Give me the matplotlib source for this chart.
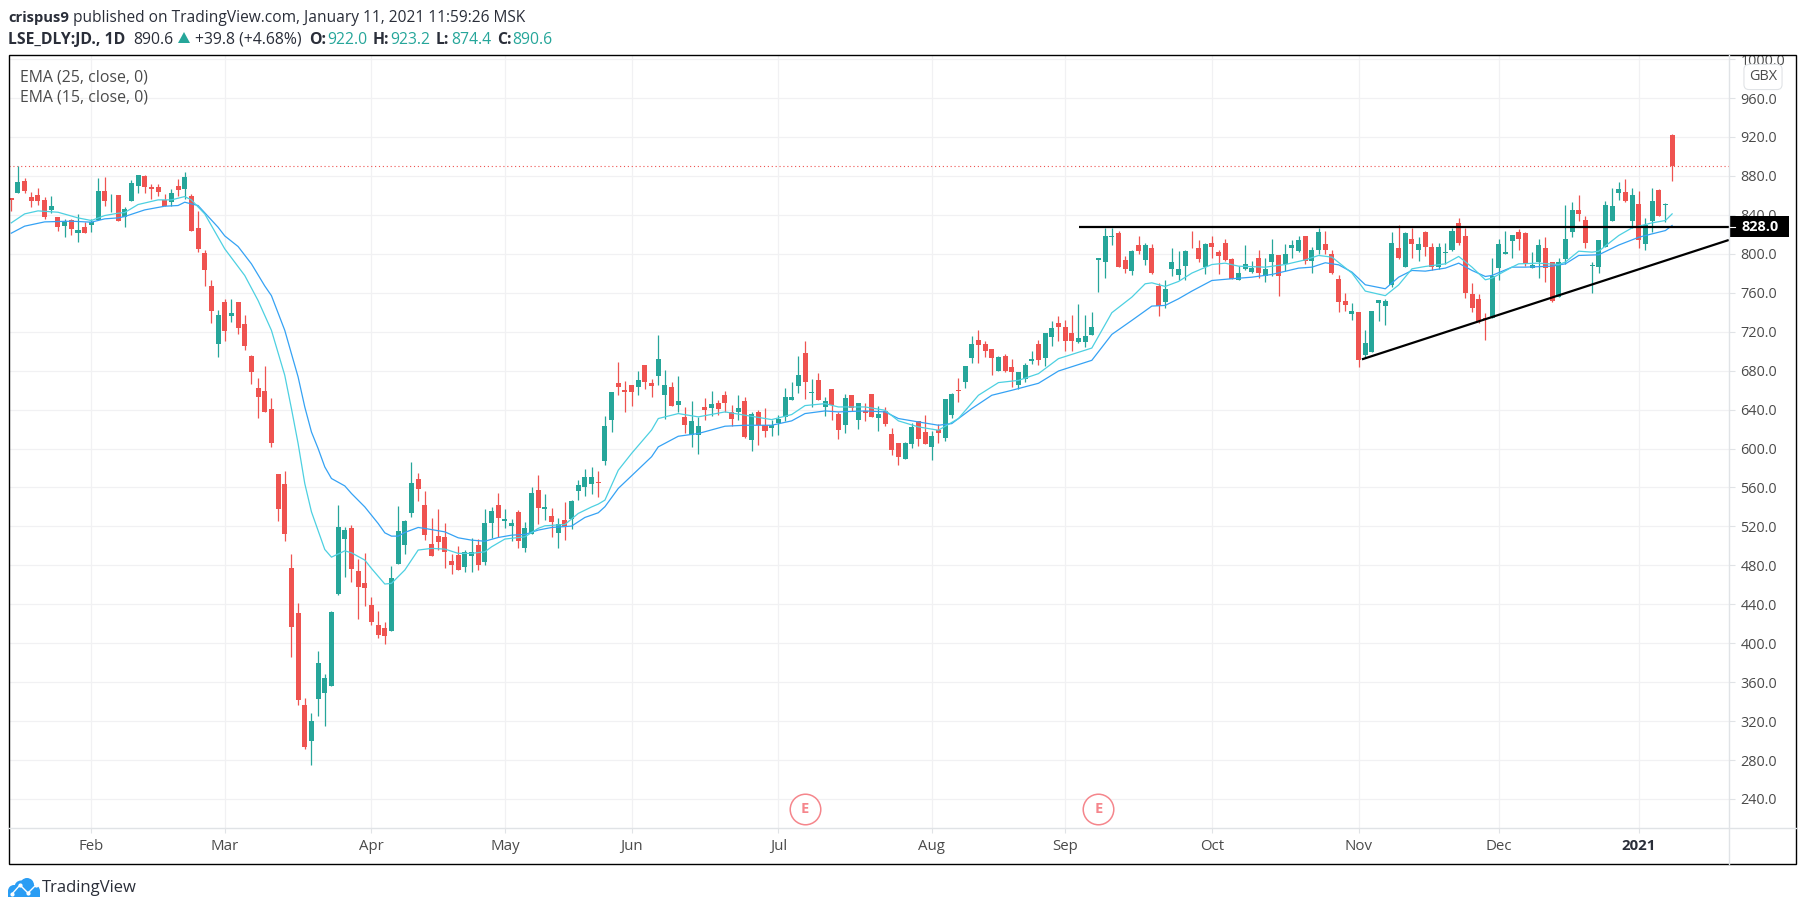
import matplotlib
matplotlib.use('Agg')
import matplotlib.pyplot as plt
from matplotlib.patches import Rectangle, Circle, Polygon

plt.rcParams['font.family'] = ['Open Sans', 'DejaVu Sans']

# candle data, one value per trading day
opens = [
    857.4, 862.2, 875.2, 858.8, 860.8, 855.4, 845.5, 838.3, 829, 834.5,
    821.2, 827.7, 829.4, 835.2, 864.6, 856, 860.8, 838.3, 854, 869.4,
    880.3, 869.1, 869.1, 855.4, 853, 870.1, 866.3, 859.5, 827, 801.3,
    766.5, 707.3, 750.1, 736.1, 750.1, 727.5, 694.7, 661.8, 658.8, 640.3,
    573.6, 563.4, 477.3, 431.1, 336.7, 299.1, 343.2, 349.3, 356.5, 450.6,
    507, 518.3, 474.2, 461.9, 439.3, 418.8, 415.7, 412.9, 481.7, 501.2,
    534, 568.5, 541.8, 501.8, 510, 509, 484.3, 490.5, 478.5, 489.8,
    500.8, 483.3, 523.3, 541.8, 525.7, 520.3, 534.6, 498, 512.4, 557.2,
    538, 530.5, 513.1, 526.4, 527.4, 556.2, 560.3, 563.4, 565.4, 587,
    629, 667, 659.8, 664.9, 662.9, 685.4, 667, 674.5, 654.7, 662.9,
    644.4, 632.1, 614, 614, 642.4, 641.4, 646.5, 654.7, 637.3, 637.3,
    648.5, 608.5, 637.3, 623.9, 620.8, 626, 632.1, 649.6, 663.9, 697.8,
    657.1, 670.1, 642.4, 660.8, 635.2, 623.9, 654.7, 629, 638.3, 655.7,
    631.1, 638.3, 614.7, 605.4, 589, 604.4, 628, 616.7, 601.3, 618.8,
    610.6, 634.2, 659.8, 668, 692.7, 711.1, 707, 701.9, 679.3, 694.7,
    683.4, 665, 671.1, 689.5, 707, 692.6, 714.2, 728.5, 724.4, 718.3,
    709, 709, 716.2, 793.2, 791.1, 817.1, 820.9, 793.2, 781.9, 808.6,
    793.2, 805.5, 766.5, 750.1, 783.9, 777.8, 787, 811.6, 805.5, 786,
    811.6, 801.4, 811.6, 794.2, 772.6, 783.9, 781.5, 796.2, 776.7, 791.1,
    798.3, 789.1, 805.5, 802.4, 817.8, 792.1, 803.4, 809.6, 800.3, 773.7,
    751.1, 737.8, 739.8, 695.7, 698.8, 749, 746, 767.5, 805.5, 786,
    814.7, 804.4, 821.9, 807.5, 786, 800.7, 804.4, 832.1, 818.8, 758.3,
    753.1, 733.7, 733.7, 785, 800.3, 812.7, 821.9, 820.9, 785, 791.1,
    805.5, 791.1, 755.2, 794.2, 821.9, 844.5, 835.2, 787.3, 786, 807.5,
    834.2, 862.9, 864, 834.2, 851.6, 809.6, 834.2, 866, 850.3, 922,
]
highs = [
    857.4, 890.6, 878.3, 863.2, 868, 858.1, 859.8, 838.3, 835.9, 835.9,
    841, 832.5, 835.9, 877.6, 879.3, 861.5, 860.8, 847.9, 876.2, 881.4,
    881.4, 872.1, 871.8, 861.5, 866.7, 877.3, 884.4, 861.5, 844.4, 804.4,
    772.6, 741.9, 753.8, 753.8, 750.1, 736.7, 696.4, 672.1, 684.4, 651.6,
    573.6, 576.7, 491.6, 441.3, 343.9, 328.1, 392.1, 368.5, 433.1, 541.9,
    519.3, 521.4, 486.5, 492.6, 447.2, 433.1, 421.8, 479.3, 540.9, 526.5,
    586.6, 574.6, 556.2, 528.5, 537.7, 523.3, 491.5, 499.7, 495.6, 507.9,
    506.6, 537.7, 539.8, 554.1, 537.7, 527.4, 536.7, 524.4, 560.3, 572.6,
    553.1, 538.7, 528.5, 544.9, 546.9, 567.5, 578.7, 580.8, 576.7, 633.1,
    657.7, 688.5, 669, 664.9, 679.3, 685.4, 671.1, 716.3, 680.3, 668,
    674.2, 642.7, 648.5, 632.5, 651.6, 658.8, 649.6, 658.8, 644.4, 654.7,
    652.6, 637.3, 639.3, 641.4, 629.7, 634.2, 661.9, 668, 694.7, 710.1,
    671.1, 677.3, 652.6, 660.8, 637.3, 655.7, 654.7, 646.5, 646.5, 655.7,
    643.4, 642.4, 620.8, 605.4, 606.5, 626, 628, 634.2, 617.8, 624.9,
    650.6, 656.7, 672.1, 684.4, 715.2, 721.4, 710.1, 701.9, 694.7, 696.8,
    691.6, 678.3, 687.5, 699.8, 711.1, 718.3, 731.3, 735.7, 731.6, 736.7,
    748, 736.7, 739.8, 796.2, 826, 827, 823.9, 797.3, 804.4, 817.8,
    810.6, 809.6, 769.6, 772.6, 805.5, 802.4, 803.4, 823.9, 813.7, 810.6,
    818.8, 803.4, 814.7, 796.2, 787, 808.6, 792.1, 803.4, 796.2, 814.7,
    798.3, 809.6, 813.7, 818.8, 818.8, 807.5, 827, 823.9, 803.4, 777.8,
    759.3, 749, 739.8, 721.3, 740.8, 752.1, 753.1, 822.9, 830.1, 821.9,
    826, 816.8, 823.9, 810.6, 810.6, 811.6, 826, 836.3, 826, 769.6,
    758.3, 738.8, 795.2, 814.7, 823.9, 819.8, 825, 822.9, 801.4, 814.7,
    816.8, 791.1, 795.2, 850.6, 853.7, 860.9, 839.3, 791.1, 813.7, 854.7,
    868.1, 874.2, 877.3, 868.1, 865, 836.3, 868.1, 867, 852.7, 923.2,
]
lows = [
    844.4, 862.2, 862.2, 847.9, 849.9, 835.9, 841.7, 823.2, 817.1, 819.8,
    811.9, 821.2, 822.2, 835.2, 848.9, 842.7, 833.5, 827.3, 854, 862.2,
    862.2, 856.7, 859.8, 848.9, 849.6, 859.5, 856.7, 823.2, 801.7, 767.1,
    728.9, 694, 710.4, 729.9, 717.9, 701.2, 666, 631.4, 637.6, 601.7,
    525.7, 505.2, 386.3, 337, 290.9, 274.4, 325.7, 314.5, 356.5, 449.5,
    468.4, 463.2, 425.3, 438.6, 419.1, 405.8, 399.6, 412.9, 481.7, 492,
    529.8, 546.3, 506.2, 489.8, 495.6, 477.5, 471.4, 475.5, 473.4, 473.4,
    475.5, 480.6, 507.6, 509.3, 518.2, 505.2, 498, 493.9, 512.4, 522.3,
    526.4, 509.3, 498, 505.9, 517.2, 546.9, 551, 553.1, 550, 582.8,
    616.7, 654.7, 637.2, 643.4, 654.7, 660.8, 653, 665.3, 630.4, 643.4,
    637.6, 616, 601.7, 594.5, 629, 633.5, 634.2, 637.3, 622.9, 629,
    610.9, 597.6, 603.4, 611.6, 612.6, 613.7, 628, 649.6, 656.7, 650.6,
    642.4, 649.6, 633.5, 629, 609.5, 615.7, 638.3, 619.8, 628, 632.1,
    617.8, 622.9, 593.1, 582.9, 589, 600.3, 602.4, 604.4, 588, 605.4,
    607.5, 631.1, 647.5, 661.9, 687.5, 687.5, 693.7, 675.2, 679.3, 678.3,
    662.9, 660.8, 668, 686.8, 685.4, 684.4, 704.9, 710.1, 699.8, 699.8,
    708, 703.9, 716.2, 760.3, 774.7, 808.6, 786, 779.8, 777.8, 799.3,
    788, 778.8, 735.7, 743.9, 776.7, 772.6, 772.6, 805.5, 791.1, 778.8,
    795.2, 778.8, 792.1, 773.7, 772.6, 782.9, 780.2, 774.7, 770.6, 776.7,
    756.2, 781.9, 796.2, 801.4, 789.1, 780.8, 799.3, 799.3, 778.8, 739.8,
    740.8, 731.6, 683.4, 692.6, 698.8, 730.6, 726.5, 765.5, 794.2, 786,
    796.2, 792.1, 797.3, 782.9, 783.9, 789.1, 802.4, 808.6, 754.2, 739.8,
    728.5, 711.1, 733.7, 772.6, 800.3, 796.2, 803.4, 787, 785, 774.7,
    770.6, 750.1, 755.2, 789.1, 816.8, 833.2, 805.5, 759.3, 780.8, 807.5,
    833.2, 855.7, 853.7, 826, 805.5, 803.4, 821.9, 839.3, 832.5, 874.4,
]
closes = [
    855.7, 874.2, 864.3, 854, 854, 837.6, 849.6, 828, 833.5, 825.3,
    824.9, 821.2, 832.8, 865, 854.7, 856.7, 834.2, 846.1, 873.2, 881.4,
    868.4, 866.3, 863.2, 848.9, 862.6, 866, 879.3, 823.2, 804.8, 783.6,
    741.2, 736.7, 720.7, 738.8, 723.7, 705.3, 678.3, 653, 637.6, 605.8,
    538, 512.4, 417.1, 341.8, 292.9, 320.3, 379.8, 364.4, 432.1, 519.3,
    516.2, 476.6, 458.1, 456.7, 422.2, 408.9, 407.8, 467, 515.2, 525.5,
    564.4, 558.2, 511.4, 489.8, 503.8, 493.9, 480.2, 475.5, 493.6, 493.6,
    480.6, 523.3, 535.6, 528.5, 527.4, 523.3, 505.2, 518.2, 554.1, 538.7,
    539.8, 524.4, 522.3, 519.2, 545.9, 562.3, 570.5, 570.5, 564.7, 622.9,
    657.7, 662.9, 657.7, 657.7, 670, 668, 663.9, 691.6, 665, 644.1,
    648.5, 624.3, 628, 622.9, 639.3, 645.5, 640.3, 646.5, 630.1, 641.4,
    611.6, 635.2, 624.6, 617.8, 623.9, 630.1, 652.6, 652.6, 675.2, 668.4,
    657.8, 649.6, 648.5, 644.4, 618.8, 651.6, 641.4, 646.5, 636.2, 632.1,
    635.2, 624.9, 598.3, 591.1, 605.4, 621.9, 609.5, 604.4, 612.6, 615.7,
    650.6, 655.7, 659.1, 684.4, 707, 706, 699.8, 692.7, 693.7, 679.3,
    678.3, 678.3, 685.5, 691.6, 690.6, 718.3, 723.4, 724.4, 710.1, 710.1,
    713.1, 715.2, 724.4, 796.2, 817.8, 818.8, 786, 783.9, 802.4, 802.4,
    808.6, 780.8, 746, 763.4, 792.1, 783.9, 802.4, 810.6, 794.2, 809.6,
    806.5, 797.3, 793.2, 773.7, 779.8, 789.1, 785, 779.8, 783.9, 800.3,
    776.7, 799.3, 808.6, 813.7, 792.1, 803.4, 822.9, 804.4, 780.8, 750.1,
    747, 740.8, 690.6, 708, 740.8, 752.1, 751.1, 810.6, 796.2, 820.9,
    809.6, 809.6, 806.5, 786, 807.5, 801.4, 823.9, 811.6, 759.3, 743.9,
    730.6, 732.6, 776.7, 809.6, 801.4, 819.8, 815.7, 789.1, 788, 808.6,
    785, 751.1, 791.1, 814.7, 845.5, 840.4, 810.6, 788, 813.7, 850.6,
    848.6, 867, 854.7, 859.9, 813.7, 829.1, 854.7, 839.3, 851, 890.6,
]

# moving averages, read at the bends of each line
ema25_days = [
    0, 2, 5, 9, 12, 14, 16, 17, 20, 23, 25, 26, 28, 31, 32, 34, 36, 38, 39, 41,
    42, 43, 44, 45, 46, 47, 48, 50, 51, 53, 55, 56, 57, 58, 59, 61, 62, 65, 67, 69,
    71, 73, 75, 77, 79, 81, 84, 86, 88, 89, 91, 93, 96, 97, 100, 103, 107, 110, 114, 117,
    119, 122, 124, 128, 131, 133, 136, 139, 141, 144, 147, 150, 154, 157, 162, 165, 168, 171, 173, 175,
    177, 180, 183, 186, 189, 193, 195, 197, 199, 201, 203, 206, 208, 210, 212, 215, 217, 219, 221, 222,
    225, 227, 231, 233, 235, 238, 241, 244, 246, 248, 249,
]
ema25_values = [
    821.2, 828.4, 832.8, 833.5, 832.5, 835.9, 836.9, 838.3, 845.1, 848.9, 849.6, 853, 849.6, 827.3, 818.4, 807.5, 789.7, 767, 757, 721.4,
    697.4, 673.5, 642.7, 617, 600, 581.1, 569.2, 561.6, 553.8, 540, 523, 513.4, 510, 510, 513.8, 518.9, 517.9, 514.4, 508.3, 505.9,
    504.8, 508.6, 511, 511.7, 516.2, 518.9, 520.3, 529.2, 534, 540.2, 559, 572, 591.6, 601.7, 612.6, 615.4, 622.9, 623.9, 623.9, 628.4,
    635.9, 638.6, 637.6, 638.6, 637.6, 630.8, 627.3, 623.9, 625.6, 641, 654.7, 659.8, 667, 679.6, 690.6, 717.2, 731.6, 746.3, 747, 753.8,
    761.7, 772.6, 774.4, 776, 778.8, 785.3, 786.3, 790.8, 788.7, 781.2, 768.2, 764.1, 776, 782.9, 782.2, 785.3, 790.4, 782.9, 776.7, 777.8,
    786.3, 786.3, 787.3, 789.7, 798.3, 799, 809, 817, 820.5, 823.9, 829.1,
]
ema15_days = [
    0, 2, 4, 7, 10, 12, 14, 16, 17, 19, 22, 24, 26, 27, 29, 32, 35, 37, 39, 41,
    42, 43, 44, 45, 47, 48, 50, 51, 53, 54, 56, 57, 59, 61, 63, 65, 67, 69, 71, 72,
    74, 77, 79, 80, 83, 85, 87, 88, 89, 91, 93, 96, 97, 100, 103, 107, 110, 114, 117, 119,
    122, 124, 128, 131, 133, 136, 139, 142, 145, 148, 151, 154, 157, 162, 165, 168, 170, 171, 173, 175,
    177, 180, 182, 184, 188, 191, 194, 196, 198, 201, 203, 206, 208, 210, 212, 215, 217, 219, 221, 222,
    225, 226, 229, 232, 233, 235, 237, 238, 241, 243, 246, 248, 249,
]
ema15_values = [
    831.8, 841, 844.1, 842.7, 836.9, 834.2, 839.3, 841.7, 842.4, 850.6, 855.4, 855.4, 858.8, 855.4, 841, 805.1, 777.7, 752, 721.4, 675.2,
    641, 605.1, 564, 535, 496.3, 488.4, 494.9, 492.9, 485.4, 476.8, 460.8, 461.5, 475.2, 495.7, 497.4, 496.7, 492.3, 492.3, 493.9, 499,
    507, 509.3, 518, 520.6, 522, 533.3, 540, 542.9, 547, 577.7, 595, 619, 630.8, 635.9, 632.5, 637.6, 634.2, 629.7, 634.9, 644.1,
    646.1, 642.7, 642.7, 639.3, 628.4, 622.2, 618.8, 630.8, 654.7, 667.7, 670, 676.9, 692.3, 703.2, 739.5, 755.5, 769.2, 770.2, 766.5, 771.6,
    780.2, 789, 790.4, 787.3, 786.3, 789, 793.8, 798.3, 796.6, 780.2, 761.7, 757, 768, 784.6, 787, 789.7, 797.3, 786.3, 773.3, 775,
    786.3, 789.7, 790.4, 789, 791.5, 802.7, 801.7, 802.7, 818.8, 826.7, 831.8, 834.2, 841,
]

month_days = [12, 32, 54, 74, 93, 115, 138, 158, 180, 202, 223, 244]
month_labels = ['Feb', 'Mar', 'Apr', 'May', 'Jun', 'Jul', 'Aug', 'Sep', 'Oct', 'Nov', 'Dec', '2021']
price_ticks = list(range(240, 1040, 40))

resistance_level = 828.0
resistance_start_day = 160.1
support_days = [202.5, 257.5]
support_values = [691.6, 814.2]
earnings_days = [119, 163]
earnings_y = 229.4

UP = '#26a69a'
DOWN = '#ef5350'
GRID = '#f1f1f3'
EDGE = '#e0e3e6'
TEXT = '#4a4a4a'
DARK = '#2a2e39'

fig = plt.figure(figsize=(18.05, 9.11), dpi=100, facecolor='white')
ax = fig.add_axes([8.5 / 1805, 83 / 911, 1720.5 / 1805, 772.5 / 911])
ax.set_xlim(-0.42, 257.53)
ax.set_ylim(210.2, 1003.7)
ax.set_axisbelow(True)
for spine in ax.spines.values():
    spine.set_visible(False)

ax.grid(True, color=GRID, linewidth=0.9)
ax.set_xticks(month_days, month_labels)
ax.set_yticks(price_ticks, [f'{p:.1f}' for p in price_ticks])
ax.yaxis.tick_right()
ax.tick_params(axis='x', length=3.6, width=0.8, color=EDGE, labelcolor=TEXT, labelsize=10.8, pad=4.5)
ax.tick_params(axis='y', length=4.3, width=0.8, color=EDGE, labelcolor=TEXT, labelsize=10.4, pad=4)
ax.get_xticklabels()[-1].set_fontweight('bold')
ax.get_xticklabels()[-1].set_color(DARK)

# candles
days = list(range(len(opens)))
colors = [UP if c >= o else DOWN for o, c in zip(opens, closes)]
ax.vlines(days, lows, highs, colors=colors, linewidth=0.9, zorder=2)
ax.bar(days, [abs(c - o) for o, c in zip(opens, closes)], bottom=[min(o, c) for o, c in zip(opens, closes)],
       width=0.75, color=colors, linewidth=0, zorder=3)

ax.plot(ema25_days, ema25_values, color='#35a2f4', linewidth=0.9, zorder=4)
ax.plot(ema15_days, ema15_values, color='#4dd0e1', linewidth=0.9, zorder=4)

ax.axhline(closes[-1], color=DOWN, linewidth=0.8, linestyle=(0, (1, 2.5)), zorder=1)

# hand drawn lines
ax.plot([resistance_start_day, ax.get_xlim()[1]], [resistance_level, resistance_level],
        color='black', linewidth=1.6, zorder=5, solid_capstyle='butt')
ax.plot(support_days, support_values, color='black', linewidth=1.6, zorder=5, solid_capstyle='butt')

# price label on the axis
ax.add_patch(Rectangle((1.0, resistance_level - 10.8), 60 / 1720.5, 21.6, transform=ax.get_yaxis_transform(),
                       clip_on=False, facecolor='black', edgecolor='none', zorder=6))
ax.plot([1.0, 1.0 + 6 / 1720.5], [resistance_level, resistance_level], color='white', linewidth=0.8,
        transform=ax.get_yaxis_transform(), clip_on=False, zorder=7)
ax.text(1.0 + 12 / 1720.5, resistance_level, f'{resistance_level:.1f}', transform=ax.get_yaxis_transform(),
        color='white', fontsize=10.4, fontweight='bold', va='center', ha='left', zorder=7, clip_on=False)

# earnings markers
ax.plot(earnings_days, [earnings_y] * len(earnings_days), linestyle='none', marker='o', markersize=22,
        markerfacecolor='white', markeredgecolor='#f5868c', markeredgewidth=1.1, zorder=4)
for day in earnings_days:
    ax.text(day, earnings_y, 'E', color='#f5868c', fontsize=10.5, fontweight='bold', ha='center', va='center', zorder=5)

# overlay in pixel coordinates for frame, header and logo
ov = fig.add_axes([0, 0, 1, 1], zorder=5)
ov.set_xlim(0, 1805)
ov.set_ylim(911, 0)
ov.axis('off')
ov.patch.set_visible(False)

ov.add_patch(Rectangle((1730, 44), 62, 10.5, facecolor='white', edgecolor='none'))
ov.plot([1729, 1729], [55, 864], color=EDGE, linewidth=1.0)
ov.plot([8.5, 1796], [828, 828], color=EDGE, linewidth=1.0)
ov.add_patch(Rectangle((8.5, 55), 1787.5, 809, fill=False, edgecolor='black', linewidth=1.0))

ov.text(1763, 77, 'GBX', fontsize=10.4, color=TEXT, ha='center', va='center',
        bbox=dict(boxstyle='round,pad=0.35', facecolor='white', edgecolor=EDGE, linewidth=0.8))

ov.text(19.5, 77, 'EMA (25, close, 0)', fontsize=11.4, color=TEXT, va='center')
ov.text(19.5, 98, 'EMA (15, close, 0)', fontsize=11.4, color=TEXT, va='center')

TEAL = '#26a69a'
header_parts = [
    ('crispus9', 8, 22, 'bold', DARK, 10.6),
    ('published on TradingView.com, January 11, 2021 11:59:26 MSK', 73, 22, 'normal', DARK, 11.2),
    ('LSE_DLY:JD., 1D', 8, 44, 'bold', DARK, 11.3),
    ('890.6', 133, 44, 'normal', DARK, 11.3),
    ('+39.8 (+4.68%)', 195, 44, 'normal', DARK, 11.3),
    ('O:', 309, 44, 'bold', DARK, 11.3),
    ('922.0', 327, 44, 'normal', TEAL, 11.3),
    ('H:', 373, 44, 'bold', DARK, 11.3),
    ('923.2', 390, 44, 'normal', TEAL, 11.3),
    ('L:', 436, 44, 'bold', DARK, 11.3),
    ('874.4', 451, 44, 'normal', TEAL, 11.3),
    ('C:', 497, 44, 'bold', DARK, 11.3),
    ('890.6', 512, 44, 'normal', TEAL, 11.3),
]
for label, x, y, weight, color, size in header_parts:
    ov.text(x, y, label, fontsize=size, fontweight=weight, color=color, va='baseline')
ov.add_patch(Polygon([(178, 43), (190, 43), (184, 32)], facecolor=TEAL, edgecolor='none'))

# logo
logo_blue = '#2a9df4'
for cx, cy, r in [(14, 891, 6), (21, 887, 6.5), (27, 885, 7), (34, 891, 6)]:
    ov.add_patch(Circle((cx, cy), r, facecolor=logo_blue, edgecolor='none'))
ov.add_patch(Rectangle((8, 891), 32, 6, facecolor=logo_blue, edgecolor='none'))
ov.set_xlim(0, 1805)
ov.set_ylim(911, 0)
ov.add_patch(Rectangle((0, 897), 60, 8, facecolor='white', edgecolor='none'))
ov.plot([12, 20, 28, 36], [894, 885, 893, 885], color='white', linewidth=1.0, marker='o', markersize=2)
ov.text(42, 892, 'TradingView', fontsize=12, color=DARK, va='baseline')

fig.savefig('out.png', dpi=100)
